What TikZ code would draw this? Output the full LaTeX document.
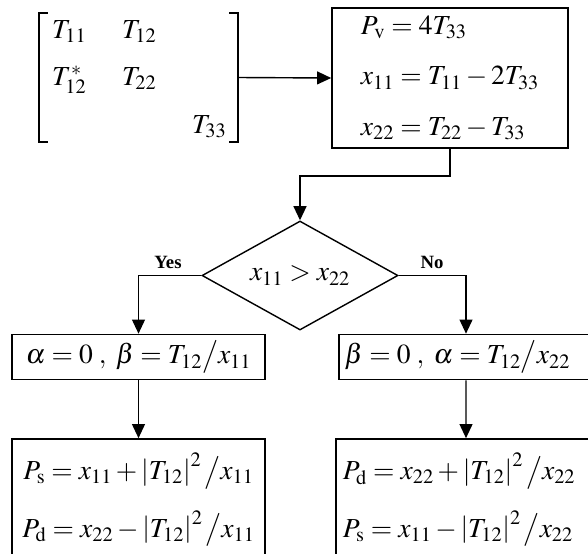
\documentclass[tikz,border=0pt]{standalone}
\usepackage{amsmath}
\usepackage{mathptmx}
\usepackage[no-math]{fontspec}
\setmainfont{Liberation Serif}
\usetikzlibrary{arrows.meta, shapes.geometric}

\begin{document}
\begin{tikzpicture}[
    x=0.03cm, y=-0.03cm,
    font=\fontsize{23.5}{26}\selectfont,
    blk/.style={
        draw, line width=1.4pt, inner sep=3pt, align=center
    },
    cond/.style={
        draw, diamond, line width=1.2pt, aspect=1.8, inner sep=0pt,
        minimum width=5.88cm, minimum height=3.27cm
    },
    brk/.style={line width=1.4pt},
    arr/.style={-{Triangle[length=12pt, width=11pt]}, line width=1.2pt},
    lbl/.style={font=\fontsize{16}{18}\selectfont\bfseries, inner sep=0pt}
]
\useasboundingbox (0,0) rectangle (588,553);
\clip (0,0) rectangle (588,553);

% Coherency matrix with hand-drawn brackets
\node[minimum width=5.97cm, minimum height=3.87cm, inner sep=0pt] (Tmat) at (138.5,77.5) {};
\draw[brk] ([xshift=0.27cm]Tmat.north west) -- (Tmat.north west) -- (Tmat.south west) -- ++(9,0);
\draw[brk] ([xshift=-0.27cm]Tmat.north east) -- (Tmat.north east) -- (Tmat.south east) -- ++(-9,0);
\node[anchor=base west, inner sep=0pt] (t11) at (52,38)  {$T_{11}$};
\node[anchor=base west, inner sep=0pt] (t12) at (122,38) {$T_{12}$};
\node[anchor=base west, inner sep=0pt] (t21) at (52,85)  {$T_{12}^{*}$};
\node[anchor=base west, inner sep=0pt] (t22) at (122,85) {$T_{22}$};
\node[anchor=base west, inner sep=0pt] (t33) at (192,133) {$T_{33}$};

% Volume power and reduced diagonal terms
\node[blk, minimum width=7.08cm, minimum height=4.2cm,
      font=\fontsize{23.5}{43}\selectfont, align=left] (Pbox) at (450,78)
    {$P_{\mathrm{v}}=4T_{33}$\\$x_{11}=T_{11}-2T_{33}$\\$x_{22}=T_{22}-T_{33}$};

% Decision
\node[cond] (test) at (300,275.5) {$x_{11}>x_{22}$};

% Branch results
\node[blk, minimum width=7.59cm, minimum height=1.35cm] (ab1) at (138.5,357)
    {$\alpha=0\;,\;\beta=T_{12}\big/x_{11}$};
\node[blk, minimum height=1.35cm, text width=8.3cm, align=left, anchor=west,
      inner xsep=5pt] (ab2) at (338,357)
    {$\beta=0\;,\;\alpha=T_{12}\big/x_{22}$};
\node[blk, minimum width=7.59cm, minimum height=3.66cm,
      font=\fontsize{23.5}{49}\selectfont] (pw1) at (138.5,500)
    {$P_{\mathrm{s}}=x_{11}+\left|T_{12}\right|^{2}\big/x_{11}$\\$P_{\mathrm{d}}=x_{22}-\left|T_{12}\right|^{2}\big/x_{11}$};
\node[blk, minimum height=3.66cm, text width=8.4cm, align=left, anchor=west,
      inner xsep=6pt, font=\fontsize{23.5}{49}\selectfont] (pw2) at (335,500)
    {$P_{\mathrm{d}}=x_{22}+\left|T_{12}\right|^{2}\big/x_{22}$\\$P_{\mathrm{s}}=x_{11}-\left|T_{12}\right|^{2}\big/x_{22}$};

\node[lbl] (yes) at (168,262) {Yes};
\node[lbl] (no)  at (432,262) {No};

% Connectors
\draw[arr] (Tmat.east) -- (Pbox.west);
\draw[arr] (Pbox.south) -- ++(0,27) -| (test.north);
\draw[arr] (test.west) -| (ab1.north);
\draw[arr] (test.east) -| ([xshift=3.84cm]ab2.north west);
\draw[arr] (ab1.south) -- (pw1.north);
\draw[arr] ([xshift=3.84cm]ab2.south west) -- ([xshift=3.93cm]pw2.north west);

\end{tikzpicture}
\end{document}
